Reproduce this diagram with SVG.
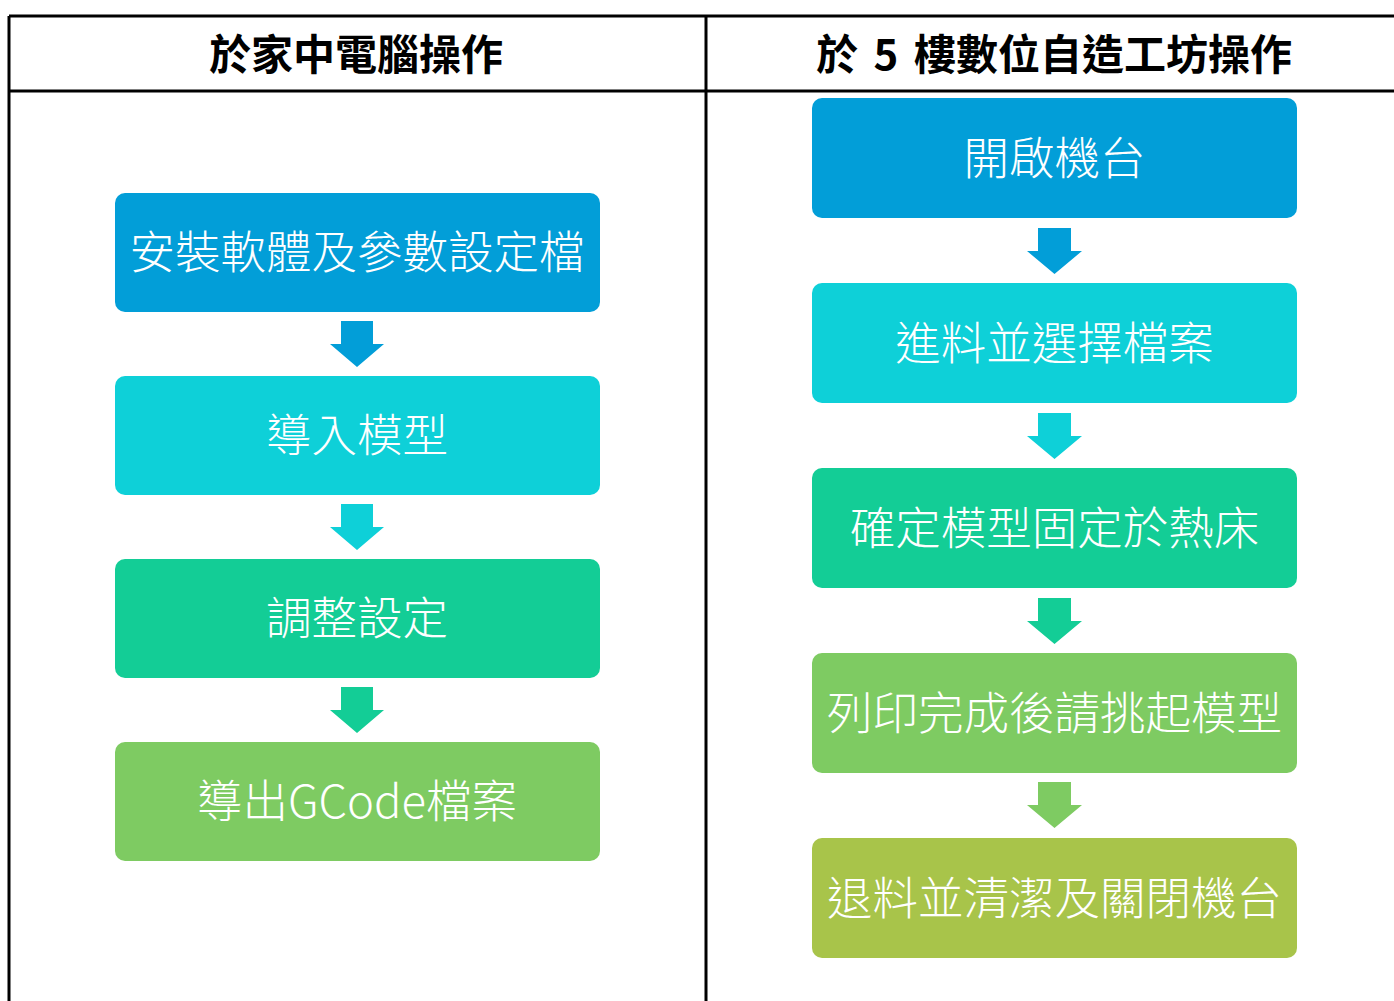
<svg xmlns="http://www.w3.org/2000/svg" width="1394" height="1001" viewBox="0 0 1394 1001">
<style>
.hd{font-family:"Noto Sans CJK TC","Noto Sans CJK SC",sans-serif;font-weight:700;font-size:42px;fill:#000;text-anchor:middle;dominant-baseline:central}
.bx{font-family:"Noto Sans CJK TC","Noto Sans CJK SC",sans-serif;font-weight:300;font-size:45.5px;fill:#fff;text-anchor:middle;dominant-baseline:central}
.ln{stroke:#000;stroke-width:3;fill:none}
.c1{fill:#029ED8}.c2{fill:#0ED0D8}.c3{fill:#13CD96}.c4{fill:#7ECB62}.c5{fill:#A8C44A}
</style>
<rect width="1394" height="1001" fill="#fff"/>
<g id="table">
<line class="ln" x1="9" y1="16" x2="1394" y2="16"/>
<line class="ln" x1="9" y1="91" x2="1394" y2="91"/>
<line class="ln" x1="9" y1="16" x2="9" y2="1001"/>
<line class="ln" x1="706" y1="16" x2="706" y2="1001"/>
<text class="hd" x="356" y="51">於家中電腦操作</text>
<text class="hd" x="1054" y="51" word-spacing="6">於 5 樓數位自造工坊操作</text>
</g>
<g id="connectors">
<path class="c1" d="M341 321H373V344H384L357 367L330 344H341Z"/>
<path class="c2" d="M341 504H373V527H384L357 550L330 527H341Z"/>
<path class="c3" d="M341 687H373V710H384L357 733L330 710H341Z"/>
<path class="c1" d="M1038 228H1071V251H1082L1054.5 274L1027 251H1038Z"/>
<path class="c2" d="M1038 413H1071V436H1082L1054.5 459L1027 436H1038Z"/>
<path class="c3" d="M1038 598H1071V621H1082L1054.5 644L1027 621H1038Z"/>
<path class="c4" d="M1038 782H1071V805H1082L1054.5 828L1027 805H1038Z"/>
</g>
<g id="n1"><rect class="c1" x="115" y="193" width="485" height="119" rx="10"/><text class="bx" x="357" y="249">安裝軟體及參數設定檔</text></g>
<g id="n2"><rect class="c2" x="115" y="376" width="485" height="119" rx="10"/><text class="bx" x="357" y="432">導入模型</text></g>
<g id="n3"><rect class="c3" x="115" y="559" width="485" height="119" rx="10"/><text class="bx" x="357" y="615">調整設定</text></g>
<g id="n4"><rect class="c4" x="115" y="742" width="485" height="119" rx="10"/><text class="bx" x="357" y="798">導出GCode檔案</text></g>
<g id="r1"><rect class="c1" x="812" y="98" width="485" height="120" rx="10"/><text class="bx" x="1054.5" y="155">開啟機台</text></g>
<g id="r2"><rect class="c2" x="812" y="283" width="485" height="120" rx="10"/><text class="bx" x="1054.5" y="340">進料並選擇檔案</text></g>
<g id="r3"><rect class="c3" x="812" y="468" width="485" height="120" rx="10"/><text class="bx" x="1054.5" y="525">確定模型固定於熱床</text></g>
<g id="r4"><rect class="c4" x="812" y="653" width="485" height="120" rx="10"/><text class="bx" x="1054.5" y="710">列印完成後請挑起模型</text></g>
<g id="r5"><rect class="c5" x="812" y="838" width="485" height="120" rx="10"/><text class="bx" x="1054.5" y="895">退料並清潔及關閉機台</text></g>
</svg>
